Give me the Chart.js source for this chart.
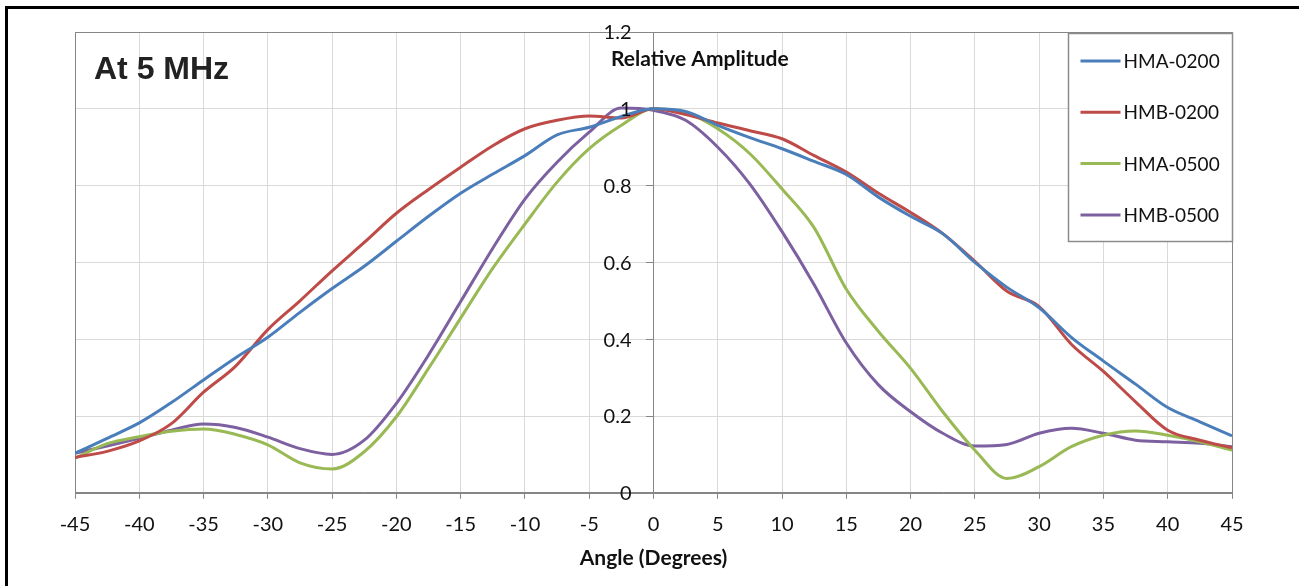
<!DOCTYPE html>
<html>
<head>
<meta charset="utf-8">
<script src="https://cdn.jsdelivr.net/npm/chart.js@4"></script>
<style>
  html, body { margin: 0; padding: 0; background: #fff; }
  #wrap { position: relative; width: 1299px; height: 586px; overflow: hidden; }
  #frame { position: absolute; left: 5px; top: 6px; width: 1400px; height: 700px;
           border-top: 3px solid #000; border-left: 3px solid #000; }
  canvas { position: absolute; left: 0; top: 0; }
</style>
</head>
<body>
<div id="wrap">
  <div id="frame"></div>
  <canvas id="beamChart" width="1299" height="586"></canvas>
</div>
<script>
// angles in degrees, one reading every 2.5 deg
const angles = [-45, -42.5, -40, -37.5, -35, -32.5, -30, -27.5, -25, -22.5, -20, -17.5, -15, -12.5, -10, -7.5, -5, -2.5,
  0, 2.5, 5, 7.5, 10, 12.5, 15, 17.5, 20, 22.5, 25, 27.5, 30, 32.5, 35, 37.5, 40, 42.5, 45];

const hma0200 = [0.103, 0.142, 0.182, 0.235, 0.294, 0.352, 0.405, 0.47, 0.532, 0.59, 0.655, 0.72, 0.78, 0.83, 0.878, 0.932, 0.952, 0.98,
  1.0, 0.993, 0.957, 0.925, 0.896, 0.863, 0.829, 0.77, 0.72, 0.675, 0.6, 0.535, 0.482, 0.405, 0.343, 0.283, 0.222, 0.185, 0.148];
const hmb0200 = [0.092, 0.108, 0.135, 0.18, 0.262, 0.33, 0.425, 0.5, 0.578, 0.652, 0.728, 0.79, 0.848, 0.904, 0.948, 0.97, 0.981, 0.976,
  1.0, 0.985, 0.963, 0.943, 0.922, 0.878, 0.835, 0.78, 0.73, 0.675, 0.603, 0.525, 0.485, 0.387, 0.316, 0.237, 0.163, 0.137, 0.117];
const hma0500 = [0.09, 0.128, 0.146, 0.16, 0.166, 0.152, 0.125, 0.078, 0.062, 0.107, 0.198, 0.324, 0.455, 0.585, 0.7, 0.809, 0.896, 0.957,
  1.0, 0.99, 0.948, 0.883, 0.791, 0.69, 0.53, 0.42, 0.324, 0.211, 0.111, 0.037, 0.068, 0.12, 0.15, 0.161, 0.15, 0.133, 0.111];
const hmb0500 = [0.103, 0.122, 0.142, 0.163, 0.179, 0.17, 0.145, 0.115, 0.1, 0.137, 0.233, 0.359, 0.498, 0.637, 0.765, 0.861, 0.939, 1.002,
  0.996, 0.97, 0.9, 0.804, 0.68, 0.542, 0.39, 0.281, 0.211, 0.155, 0.122, 0.126, 0.155, 0.168, 0.155, 0.137, 0.133, 0.129, 0.12];

const xTicks = [-45, -40, -35, -30, -25, -20, -15, -10, -5, 0, 5, 10, 15, 20, 25, 30, 35, 40, 45];
const yTicks = [0, 0.2, 0.4, 0.6, 0.8, 1, 1.2];

const seriesNames = ["HMA-0200", "HMB-0200", "HMA-0500", "HMB-0500"];
const seriesColors = ["#4a7ebb", "#be4b48", "#98b954", "#7d60a0"];

const FONT = "Lato, 'Open Sans', sans-serif";

function pts(values) {
  return angles.map((a, i) => ({ x: a, y: values[i] }));
}

// plot frame, y labels beside the centre axis, text overlays and the boxed legend
const decorations = {
  id: "decorations",
  beforeDatasetsDraw(chart) {
    const { ctx, chartArea: a } = chart;
    ctx.save();
    ctx.strokeStyle = "#868686";
    ctx.lineWidth = 1;
    ctx.strokeRect(Math.round(a.left) + 0.5, Math.round(a.top) + 0.5,
      Math.round(a.right - a.left), Math.round(a.bottom - a.top));
    ctx.restore();
  },
  afterDraw(chart) {
    const { ctx, chartArea: a, scales } = chart;
    ctx.save();

    // y tick labels, to the left of the axis sitting at x = 0
    const axisX = scales.x.getPixelForValue(0);
    ctx.fillStyle = "#111";
    ctx.font = "20px " + FONT;
    ctx.textAlign = "right";
    ctx.textBaseline = "middle";
    scales.y.ticks.forEach((t) => {
      ctx.fillText(String(t.value), axisX - 22, scales.y.getPixelForValue(t.value) + 1);
    });

    ctx.textAlign = "left";
    ctx.fillStyle = "#222";
    ctx.font = "bold 32px 'Liberation Sans', Arial, sans-serif";
    ctx.textBaseline = "alphabetic";
    ctx.fillText("At 5 MHz", a.left + 19, a.top + 47);

    ctx.fillStyle = "#111";
    ctx.font = "bold 21px " + FONT;
    ctx.textBaseline = "middle";
    ctx.fillText("Relative Amplitude", 611, 59);

    // legend box
    const bw = 164, bh = 208;
    const bx = Math.round(a.right) - bw + 0.5, by = Math.round(a.top) + 1.5;
    ctx.fillStyle = "#fff";
    ctx.fillRect(bx, by, bw, bh);
    ctx.strokeStyle = "#8c8c8c";
    ctx.lineWidth = 1.5;
    ctx.strokeRect(bx, by, bw, bh);
    ctx.font = "19px " + FONT;
    chart.data.datasets.forEach((ds, i) => {
      const y = by + 27.5 + i * 51.3;
      ctx.strokeStyle = ds.borderColor;
      ctx.lineWidth = 3;
      ctx.beginPath();
      ctx.moveTo(bx + 12, y);
      ctx.lineTo(bx + 52, y);
      ctx.stroke();
      ctx.fillStyle = "#111";
      ctx.fillText(ds.label, bx + 55, y + 1);
    });
    ctx.restore();
  }
};

new Chart(document.getElementById("beamChart"), {
  type: "line",
  data: {
    datasets: seriesNames.map((name, i) => ({
      label: name,
      data: pts([hma0200, hmb0200, hma0500, hmb0500][i]),
      borderColor: seriesColors[i],
      backgroundColor: seriesColors[i],
      borderWidth: 3,
      pointRadius: 0,
      cubicInterpolationMode: "monotone",
      fill: false,
    })),
  },
  options: {
    responsive: false,
    animation: false,
    layout: { padding: { left: 75, right: 67, top: 32, bottom: 0 } },
    plugins: {
      legend: { display: false },
      tooltip: { enabled: false },
    },
    scales: {
      x: {
        type: "linear",
        min: -45,
        max: 45,
        afterBuildTicks: (s) => { s.ticks = xTicks.map((v) => ({ value: v })); },
        ticks: { color: "#111", font: { family: FONT, size: 20 }, padding: 14, maxRotation: 0,
          callback: (v) => String(v) },
        grid: { color: "#d9d9d9", tickColor: "#868686", tickLength: 6 },
        border: { color: "#868686" },
        title: {
          display: true,
          text: "Angle (Degrees)",
          color: "#111",
          font: { family: FONT, size: 21, weight: "bold" },
          padding: { top: -5, bottom: 15 },
        },
      },
      y: {
        type: "linear",
        position: { x: 0 },
        min: 0,
        max: 1.2,
        afterBuildTicks: (s) => { s.ticks = yTicks.map((v) => ({ value: v })); },
        ticks: { display: false, font: { family: FONT, size: 20 } },
        grid: { color: "#d9d9d9", tickColor: "#868686", tickLength: 7 },
        border: { color: "#868686" },
      },
    },
  },
  plugins: [decorations],
});
</script>
</body>
</html>
